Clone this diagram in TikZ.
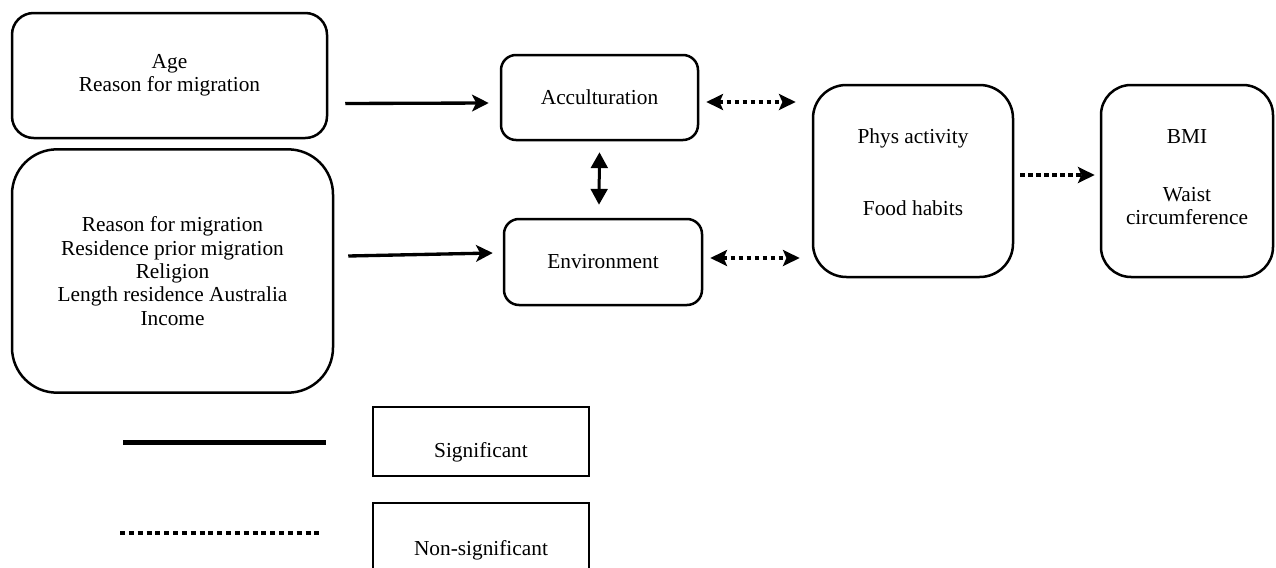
\documentclass[tikz,border=0pt]{standalone}
\usepackage{fontspec}
\setmainfont{Liberation Serif}
\usetikzlibrary{arrows.meta,calc}
\begin{document}
\begin{tikzpicture}[x=0.6pt,y=-0.6pt,
  every node/.style={font=\fontsize{12.8}{14}\selectfont},
  rbox/.style={draw, line width=1.5pt, align=center, inner sep=0pt},
  lbox/.style={draw, line width=0.7pt, minimum width=129.6pt, minimum height=41.4pt, inner sep=0pt},
  txt/.style={align=center, inner sep=0pt},
  sigarrow/.style={line width=2pt, -{Stealth[length=10pt,width=10pt,inset=2.5pt]}},
  dblarrow/.style={line width=1.8pt, {Triangle[length=9.5pt,width=10pt]}-{Triangle[length=9.5pt,width=10pt]}},
  nsarrow/.style={line width=2.4pt, dash pattern=on 2.7pt off 2.1pt},
  nstip/.style={-{Stealth[length=10pt,width=9.5pt,inset=2pt]}},
  nsdbl/.style={{Stealth[length=10pt,width=9.5pt,inset=2pt]}-{Stealth[length=10pt,width=9.5pt,inset=2pt]}}]
\clip (0,0) rectangle (1276,568);
\useasboundingbox (0,0) rectangle (1276,568);

\node[rbox, rounded corners=13pt, minimum width=189pt, minimum height=75pt] (a) at (169.5,75.5) {Age\\Reason for migration};
\node[rbox, rounded corners=27pt, minimum width=192.6pt, minimum height=146pt] (b) at (172.5,271) {Reason for migration\\Residence prior migration\\Religion\\Length residence Australia\\Income};
\node[rbox, rounded corners=9pt, minimum width=118.2pt, minimum height=51pt] (acc) at (599.5,97.5) {Acculturation};
\node[rbox, rounded corners=9pt, minimum width=118.8pt, minimum height=51.6pt] (env) at (603,262) {Environment};
\node[rbox, rounded corners=20pt, minimum width=120pt, minimum height=115.2pt] (phys) at (913,181) {};
\node[txt] (physt) at (913,172.5) {Phys activity\\[29pt]Food habits};
\node[rbox, rounded corners=18pt, minimum width=103.2pt, minimum height=115.2pt] (bmi) at (1187,181) {};
\node[txt] (bmit) at (1187,177) {BMI\\[21pt]Waist\\circumference};

\node[lbox] (sig) at (481,441.5) {};
\node[txt] (sigt) at (481,452) {Significant};
\node[lbox] (ns) at (481,537.5) {};
\node[txt] (nst) at (481,550) {Non-significant};

\coordinate (sl1) at (123,442);
\coordinate (sl2) at (326,442);
\draw[line width=3pt] (sl1) -- (sl2);
\coordinate (dl1) at (120,533);
\coordinate (dl2) at (323,533);
\draw[line width=2.4pt, dash pattern=on 3pt off 2.3pt] (dl1) -- (dl2);

\draw[sigarrow] ($(a.east)+(17,28)$) -- ($(acc.west)+(-11,5.5)$);
\draw[sigarrow] ($(b.east)+(14,-15)$) -- ($(env.west)+(-10,-9)$);
\draw[dblarrow] ($(acc.south)+(0,11)$) -- ($(env.north)+(-4,-13)$);
\draw[nsarrow, nsdbl] ($(acc.east)+(7,4.5)$) -- ($(phys.west)+(-16,-79)$);
\draw[nsarrow, nsdbl] ($(env.east)+(7,-4)$) -- ($(phys.west)+(-12,77)$);
\draw[nsarrow, nstip] ($(phys.east)+(6,-6)$) -- ($(bmi.west)+(-5,-6)$);
\end{tikzpicture}
\end{document}
